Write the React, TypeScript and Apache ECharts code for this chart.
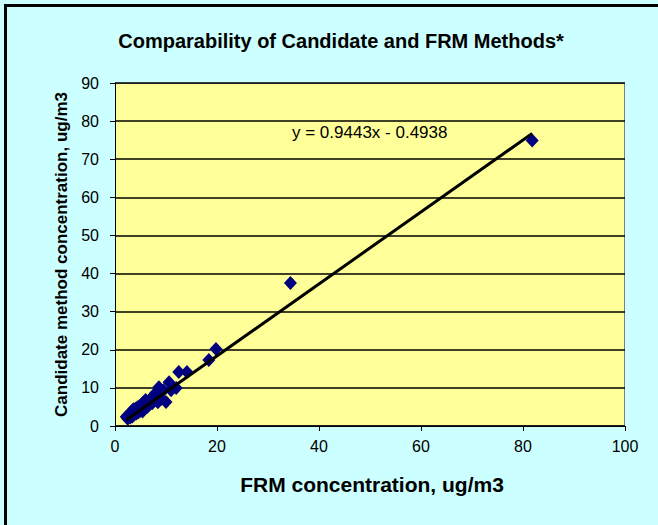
import React, { useEffect, useRef } from "react";
import * as echarts from "echarts";

const TITLE = "Comparability of Candidate and FRM Methods*";
const X_NAME = "FRM concentration, ug/m3";
const Y_NAME = "Candidate method concentration, ug/m3";
const SLOPE = 0.9443;
const INTERCEPT = -0.4938;
const EQUATION = "y = 0.9443x - 0.4938";

const frmValues = [
  2.2, 2.5, 2.8, 3.0, 3.2, 3.4, 3.6, 3.8, 4.0, 4.2, 4.4, 4.6, 4.8, 5.0, 5.2, 5.4,
  5.6, 5.8, 6.0, 6.3, 6.6, 7.0, 7.3, 7.6, 8.0, 8.4, 8.6, 9.0, 9.5, 10.0, 10.6,
  11.0, 12.0, 12.5, 14.1, 18.4, 19.8, 34.4, 81.8,
];
const candidateValues = [
  2.4, 1.9, 3.0, 2.2, 3.8, 2.5, 4.4, 3.0, 4.5, 3.3, 4.9, 3.6, 5.2, 4.0, 5.6, 3.8,
  6.2, 4.6, 6.8, 5.0, 5.4, 7.2, 6.0, 7.4, 8.7, 6.2, 10.2, 7.0, 9.4, 6.3, 11.5,
  9.4, 10.0, 14.2, 14.2, 17.3, 20.2, 37.5, 74.9,
];

export default function App() {
  const ref = useRef<HTMLDivElement>(null);
  useEffect(() => {
    if (!ref.current) return;
    const chart = echarts.init(ref.current, null, { renderer: "svg" });
    const points = frmValues.map((x, i) => [x, candidateValues[i]]);
    const xMin = Math.min(...frmValues);
    const xMax = Math.max(...frmValues);
    const trend = [
      [xMin, SLOPE * xMin + INTERCEPT],
      [xMax, SLOPE * xMax + INTERCEPT],
    ];
    const font = "'Liberation Sans', Arial, sans-serif";
    chart.setOption({
      animation: false,
      backgroundColor: "#CCFFFF",
      title: {
        text: TITLE,
        left: 336,
        top: 26,
        textAlign: "center",
        textStyle: { fontFamily: font, fontSize: 20, fontWeight: "bold", color: "#000" },
      },
      graphic: [
        {
          type: "polyline",
          shape: { points: [[5.5, 525], [5.5, 5.5], [658, 5.5]] },
          style: { stroke: "#000", lineWidth: 3, fill: "none" },
          z: 100,
        },
        {
          type: "rect",
          shape: { x: 115.5, y: 83.5, width: 509, height: 342 },
          style: { fill: "none", stroke: "#808080", lineWidth: 1 },
          z: 0,
        },
        {
          type: "text",
          x: 292,
          y: 132,
          style: {
            text: EQUATION,
            fontFamily: font,
            fontSize: 17,
            fill: "#000",
            verticalAlign: "middle",
          },
          z: 50,
        },
      ],
      grid: {
        left: 115,
        right: 33,
        top: 83,
        bottom: 99,
        show: true,
        backgroundColor: "#FFFF99",
        borderWidth: 0,
      },
      xAxis: {
        type: "value",
        min: 0,
        max: 100,
        interval: 20,
        name: X_NAME,
        nameLocation: "middle",
        nameGap: 48,
        nameTextStyle: { fontFamily: font, fontSize: 21, fontWeight: "bold", color: "#000", padding: [0, 0, 0, 4] },
        axisLine: { show: true, lineStyle: { color: "#000", width: 1 } },
        axisTick: { show: true, length: 5, lineStyle: { color: "#000" } },
        axisLabel: { fontFamily: font, fontSize: 16, color: "#000", margin: 12 },
        splitLine: { show: false },
      },
      yAxis: {
        type: "value",
        min: 0,
        max: 90,
        interval: 10,
        name: Y_NAME,
        nameLocation: "middle",
        nameGap: 45,
        nameTextStyle: { fontFamily: font, fontSize: 17, fontWeight: "bold", color: "#000" },
        axisLine: { show: true, lineStyle: { color: "#000", width: 1 } },
        axisTick: { show: true, length: 5, lineStyle: { color: "#000" } },
        axisLabel: { fontFamily: font, fontSize: 16, color: "#000", margin: 16 },
        splitLine: { show: true, lineStyle: { color: "#000", width: 1.5 } },
      },
      series: [
        {
          type: "line",
          data: trend,
          symbol: "none",
          lineStyle: { color: "#000", width: 3 },
          z: 3,
          silent: true,
        },
        {
          type: "scatter",
          data: points,
          symbol: "diamond",
          symbolSize: [13, 14],
          itemStyle: { color: "#000080", opacity: 1 },
          z: 2,
        },
      ],
    } as any);
    return () => chart.dispose();
  }, []);
  return (
    <div
      ref={ref}
      style={{ position: "fixed", left: 0, top: 0, width: 658, height: 525 }}
    />
  );
}
